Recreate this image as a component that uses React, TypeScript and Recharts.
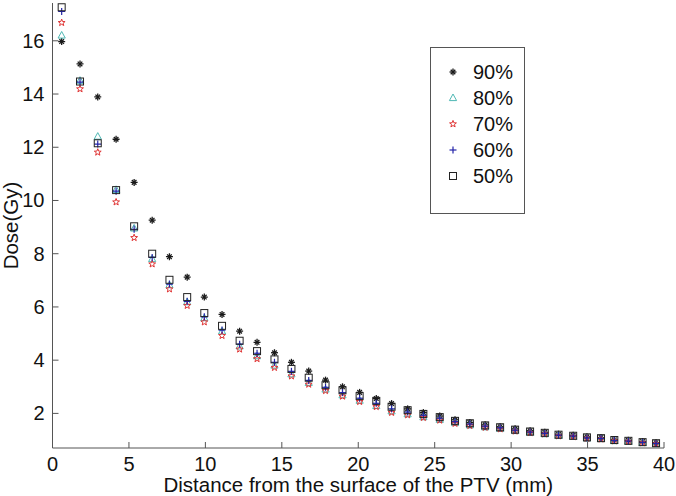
import { ScatterChart, Scatter, XAxis, YAxis, Legend } from "recharts";

const FONT = '"Liberation Sans", Arial, sans-serif';
const AXIS = "#555";

// distance from the PTV surface (mm)
const DISTANCE = [
  0.6, 1.8, 2.96, 4.16, 5.34, 6.52, 7.65, 8.81, 9.93, 11.09, 12.24, 13.38, 14.52,
  15.63, 16.76, 17.86, 18.97, 20.09, 21.18, 22.18, 23.23, 24.26, 25.33, 26.33,
  27.3, 28.3, 29.28, 30.26, 31.24, 32.2, 33.1, 34.06, 34.96, 35.88, 36.75, 37.67,
  38.6, 39.48,
];

// dose (Gy) for each isodose prescription level
const DOSE_90 = [
  15.97, 15.13, 13.89, 12.3, 10.68, 9.26, 7.89, 7.12, 6.37, 5.72, 5.09, 4.67, 4.28,
  3.92, 3.59, 3.25, 3.0, 2.79, 2.56, 2.37, 2.17, 2.03, 1.9, 1.76, 1.66, 1.57, 1.5,
  1.42, 1.35, 1.29, 1.22, 1.18, 1.12, 1.09, 1.01, 0.99, 0.94, 0.9,
];
const DOSE_80 = [
  16.2, 14.5, 12.4, 10.4, 8.95, 7.8, 6.82, 6.18, 5.58, 5.08, 4.52, 4.15, 3.8, 3.47,
  3.15, 2.9, 2.68, 2.48, 2.28, 2.08, 1.97, 1.86, 1.76, 1.64, 1.55, 1.48, 1.42, 1.34,
  1.27, 1.22, 1.16, 1.12, 1.06, 1.04, 0.96, 0.94, 0.89, 0.85,
];
const DOSE_70 = [
  16.68, 14.19, 11.81, 9.94, 8.6, 7.61, 6.67, 6.05, 5.43, 4.92, 4.41, 4.05, 3.72,
  3.4, 3.09, 2.85, 2.64, 2.44, 2.25, 2.03, 1.94, 1.84, 1.74, 1.62, 1.54, 1.47, 1.41,
  1.33, 1.27, 1.22, 1.15, 1.12, 1.06, 1.03, 0.96, 0.94, 0.89, 0.85,
];
const DOSE_60 = [
  17.1, 14.45, 12.12, 10.35, 8.92, 7.86, 6.86, 6.21, 5.63, 5.13, 4.6, 4.26, 3.92,
  3.58, 3.24, 2.98, 2.78, 2.57, 2.38, 2.17, 2.05, 1.93, 1.82, 1.69, 1.6, 1.52, 1.46,
  1.37, 1.3, 1.25, 1.18, 1.15, 1.08, 1.06, 0.98, 0.96, 0.91, 0.87,
];
const DOSE_50 = [
  17.26, 14.47, 12.15, 10.39, 9.03, 8.0, 7.02, 6.37, 5.77, 5.29, 4.73, 4.34, 4.03,
  3.67, 3.34, 3.06, 2.87, 2.65, 2.47, 2.25, 2.12, 1.98, 1.86, 1.72, 1.63, 1.55, 1.48,
  1.39, 1.32, 1.27, 1.2, 1.16, 1.1, 1.07, 1.0, 0.97, 0.92, 0.88,
];

const X_TICKS = [0, 5, 10, 15, 20, 25, 30, 35, 40];
const Y_TICKS = [2, 4, 6, 8, 10, 12, 14, 16];

type MarkerKind = "asterisk" | "triangle" | "star" | "plus" | "square";

const SERIES: { name: string; values: number[]; color: string; marker: MarkerKind }[] = [
  { name: "90%", values: DOSE_90, color: "#1a1a1a", marker: "asterisk" },
  { name: "80%", values: DOSE_80, color: "#4fb8b4", marker: "triangle" },
  { name: "70%", values: DOSE_70, color: "#e03535", marker: "star" },
  { name: "60%", values: DOSE_60, color: "#2424a8", marker: "plus" },
  { name: "50%", values: DOSE_50, color: "#222222", marker: "square" },
];

function Marker({ kind, cx, cy, color }: { kind: MarkerKind; cx: number; cy: number; color: string }) {
  if (cx == null || cy == null) return null;
  switch (kind) {
    case "asterisk":
      return (
        <g stroke={color} strokeWidth={1.3}>
          <line x1={cx - 3.5} x2={cx + 3.5} y1={cy} y2={cy} />
          <line x1={cx} x2={cx} y1={cy - 3.5} y2={cy + 3.5} />
          <line x1={cx - 2.3} x2={cx + 2.3} y1={cy - 2.3} y2={cy + 2.3} />
          <line x1={cx - 2.3} x2={cx + 2.3} y1={cy + 2.3} y2={cy - 2.3} />
        </g>
      );
    case "triangle":
      return (
        <polygon
          points={`${cx},${cy - 4} ${cx - 3.6},${cy + 2.6} ${cx + 3.6},${cy + 2.6}`}
          fill="none"
          stroke={color}
        />
      );
    case "star": {
      const pts: string[] = [];
      for (let k = 0; k < 10; k++) {
        const r = k % 2 === 0 ? 3.6 : 1.5;
        const a = -Math.PI / 2 + (k * Math.PI) / 5;
        pts.push(`${cx + r * Math.cos(a)},${cy + r * Math.sin(a)}`);
      }
      return <polygon points={pts.join(" ")} fill="none" stroke={color} />;
    }
    case "plus":
      return (
        <g stroke={color} strokeWidth={1.2}>
          <line x1={cx - 3.5} x2={cx + 3.5} y1={cy} y2={cy} />
          <line x1={cx} x2={cx} y1={cy - 3.5} y2={cy + 3.5} />
        </g>
      );
    default:
      return (
        <rect x={cx - 3.5} y={cy - 3.5} width={7} height={7} fill="none" stroke={color} />
      );
  }
}

const BottomTick = ({ x, y, payload }: any) => (
  <g>
    <line x1={x} x2={x} y1={y - 8} y2={y - 14} stroke={AXIS} />
    <text x={x} y={y + 15} textAnchor="middle" fontSize={20} fill="#111" fontFamily={FONT}>
      {payload.value}
    </text>
  </g>
);

const LeftTick = ({ x, y, payload }: any) => (
  <g>
    <line x1={x + 8} x2={x + 14} y1={y} y2={y} stroke={AXIS} />
    <text x={x} y={y + 7} textAnchor="end" fontSize={20} fill="#111" fontFamily={FONT}>
      {payload.value}
    </text>
  </g>
);

const TopTick = ({ x, y }: any) => <line x1={x} x2={x} y1={y} y2={y + 6} stroke={AXIS} />;

const RightTick = ({ x, y }: any) => <line x1={x} x2={x - 6} y1={y} y2={y} stroke={AXIS} />;

function LegendBox() {
  return (
    <div
      style={{
        boxSizing: "border-box",
        width: 95,
        height: 167,
        border: `1px solid ${AXIS}`,
        background: "#fff",
        paddingTop: 11,
        fontFamily: FONT,
      }}
    >
      {SERIES.map((s) => (
        <div key={s.name} style={{ display: "flex", alignItems: "center", height: 26 }}>
          <svg width={14} height={14} style={{ marginLeft: 15 }}>
            <Marker kind={s.marker} cx={7} cy={7} color={s.color} />
          </svg>
          <span style={{ marginLeft: 13, fontSize: 20, color: "#111" }}>{s.name}</span>
        </div>
      ))}
    </div>
  );
}

export default function App() {
  return (
    <div>
      <style>{"body{margin:0}"}</style>
      <ScatterChart
        width={676}
        height={496}
        margin={{ top: 3, right: 12, bottom: 0, left: 0 }}
        style={{ fontFamily: FONT, background: "#fff" }}
      >
        <XAxis
          xAxisId="b"
          type="number"
          dataKey="x"
          domain={[0, 40]}
          ticks={X_TICKS}
          allowDataOverflow
          height={48}
          tickSize={0}
          tickMargin={8}
          tickLine={false}
          tick={<BottomTick />}
          stroke={AXIS}
          label={{
            content: ({ viewBox }: any) => (
              <text
                x={(viewBox?.x ?? 52.5) + (viewBox?.width ?? 611.5) / 2}
                y={(viewBox?.y ?? 448) + 44}
                textAnchor="middle"
                fontSize={20.5}
                fill="#111"
                fontFamily={FONT}
              >
                Distance from the surface of the PTV (mm)
              </text>
            ),
          }}
        />
        <XAxis
          xAxisId="t"
          orientation="top"
          type="number"
          dataKey="x"
          domain={[0, 40]}
          ticks={X_TICKS}
          allowDataOverflow
          height={0}
          tickSize={0}
          tickMargin={0}
          tickLine={false}
          tick={<TopTick />}
          stroke={AXIS}
        />
        <YAxis
          yAxisId="l"
          type="number"
          dataKey="y"
          domain={[0.7, 17.42]}
          ticks={Y_TICKS}
          allowDataOverflow
          width={52.5}
          tickSize={0}
          tickMargin={8}
          tickLine={false}
          tick={<LeftTick />}
          stroke={AXIS}
          label={{
            content: ({ viewBox }: any) => {
              const cx = 18;
              const cy = (viewBox?.y ?? 3) + (viewBox?.height ?? 445) / 2;
              return (
                <text
                  transform={`translate(${cx},${cy}) rotate(-90)`}
                  textAnchor="middle"
                  fontSize={20.5}
                  fill="#111"
                  fontFamily={FONT}
                >
                  Dose(Gy)
                </text>
              );
            },
          }}
        />
        <YAxis
          yAxisId="r"
          orientation="right"
          type="number"
          dataKey="y"
          domain={[0.7, 17.42]}
          ticks={Y_TICKS}
          allowDataOverflow
          width={0}
          tickSize={0}
          tickMargin={0}
          tickLine={false}
          tick={<RightTick />}
          stroke={AXIS}
        />
        <Legend
          layout="vertical"
          align="center"
          verticalAlign="middle"
          content={<LegendBox />}
          wrapperStyle={{ left: 430, top: 47, width: 95, height: 167 }}
        />
        {SERIES.map((s) => (
          <Scatter
            key={s.name}
            name={s.name}
            xAxisId="b"
            yAxisId="l"
            data={DISTANCE.map((x, i) => ({ x, y: s.values[i] }))}
            isAnimationActive={false}
            shape={(p: any) => <Marker kind={s.marker} cx={p.cx} cy={p.cy} color={s.color} />}
          />
        ))}
      </ScatterChart>
    </div>
  );
}
